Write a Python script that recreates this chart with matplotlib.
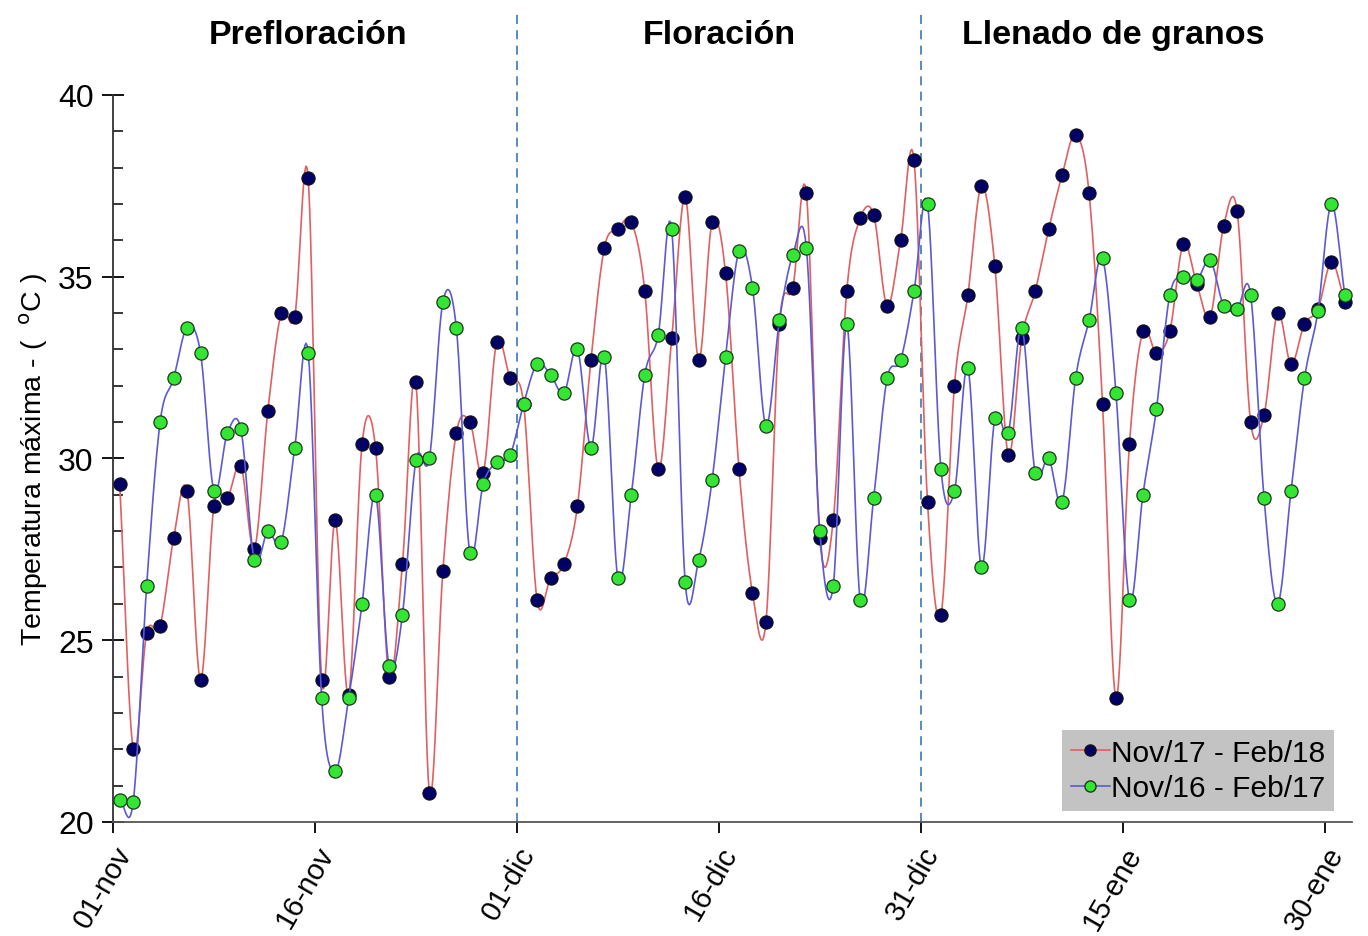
import numpy as np
import matplotlib
matplotlib.use('Agg')
from matplotlib import pyplot as plt
from matplotlib.ticker import MultipleLocator

plt.rcParams['font.family'] = ['Liberation Sans', 'DejaVu Sans']

# daily max temperature, 01-nov .. 31-ene (92 days)
temp_1718 = [29.3, 22.0, 25.2, 25.4, 27.8, 29.1, 23.9, 28.7, 28.9, 29.8,
             27.5, 31.3, 34.0, 33.9, 37.7, 23.9, 28.3, 23.5, 30.4, 30.3,
             24.0, 27.1, 32.1, 20.8, 26.9, 30.7, 31.0, 29.6, 33.2, 32.2,
             31.5, 26.1, 26.7, 27.1, 28.7, 32.7, 35.8, 36.3, 36.5, 34.6,
             29.7, 33.3, 37.2, 32.7, 36.5, 35.1, 29.7, 26.3, 25.5, 33.7,
             34.7, 37.3, 27.8, 28.3, 34.6, 36.6, 36.7, 34.2, 36.0, 38.2,
             28.8, 25.7, 32.0, 34.5, 37.5, 35.3, 30.1, 33.3, 34.6, 36.3,
             37.8, 38.9, 37.3, 31.5, 23.4, 30.4, 33.5, 32.9, 33.5, 35.9,
             34.8, 33.9, 36.4, 36.8, 31.0, 31.2, 34.0, 32.6, 33.7, 34.1,
             35.4, 34.3]
temp_1617 = [20.6, 20.55, 26.5, 31.0, 32.2, 33.6, 32.9, 29.1, 30.7, 30.8,
             27.2, 28.0, 27.7, 30.3, 32.9, 23.4, 21.4, 23.4, 26.0, 29.0,
             24.3, 25.7, 29.95, 30.0, 34.3, 33.6, 27.4, 29.3, 29.9, 30.1,
             31.5, 32.6, 32.3, 31.8, 33.0, 30.3, 32.8, 26.7, 29.0, 32.3,
             33.4, 36.3, 26.6, 27.2, 29.4, 32.8, 35.7, 34.7, 30.9, 33.8,
             35.6, 35.8, 28.0, 26.5, 33.7, 26.1, 28.9, 32.2, 32.7, 34.6,
             37.0, 29.7, 29.1, 32.5, 27.0, 31.1, 30.7, 33.6, 29.6, 30.0,
             28.8, 32.2, 33.8, 35.5, 31.8, 26.1, 29.0, 31.35, 34.5, 35.0,
             34.9, 35.45, 34.2, 34.1, 34.5, 28.9, 26.0, 29.1, 32.2, 34.05,
             37.0, 34.5]

tick_days = [0, 15, 30, 45, 60, 75, 90]
tick_labels = ['01-nov', '16-nov', '01-dic', '16-dic', '31-dic', '15-ene', '30-ene']
phase_edges = [30, 60]
phase_names = ['Prefloración', 'Floración', 'Llenado de granos']
phase_pos = [14.5, 45, 74.3]


def smooth(x, y, n=12):
    # catmull-rom, close to excel "smoothed line"
    x = np.asarray(x, float)
    y = np.asarray(y, float)
    px = np.concatenate([[2*x[0]-x[1]], x, [2*x[-1]-x[-2]]])
    py = np.concatenate([[2*y[0]-y[1]], y, [2*y[-1]-y[-2]]])
    t = np.linspace(0, 1, n, endpoint=False)[:, None]
    out = []
    for p in (px, py):
        p0, p1, p2, p3 = p[:-3], p[1:-2], p[2:-1], p[3:]
        c = 0.5*((2*p1) + (-p0+p2)*t + (2*p0-5*p1+4*p2-p3)*t**2 + (-p0+3*p1-3*p2+p3)*t**3)
        out.append(np.concatenate([c.T.ravel(), [p[-2]]]))
    return out[0], out[1]


days = np.arange(len(temp_1718)) + 0.5

fig = plt.figure(figsize=(13.68, 9.37), dpi=100)
ax = fig.add_axes([0.0826, 0.1217, 0.9054, 0.776])

sx, sy = smooth(days, temp_1718)
ax.plot(sx, sy, color='#e06060', lw=1.2, zorder=2)
ax.plot(days, temp_1718, 'o', color='#000066', mec='#111111', mew=0.8, ms=9.5, zorder=3)
sx, sy = smooth(days, temp_1617)
ax.plot(sx, sy, color='#5a5ad6', lw=1.2, zorder=4)
ax.plot(days, temp_1617, 'o', color='#33e633', mec='#1a3a1a', mew=0.9, ms=9.5, zorder=5)

# legend proxies
h1, = ax.plot([], [], '-o', color='#e06060', mfc='#000066', mec='#111111', ms=8, lw=1.2)
h2, = ax.plot([], [], '-o', color='#5a5ad6', mfc='#33e633', mec='#1a3a1a', ms=8, lw=1.2)
leg = ax.legend([h1, h2], ['Nov/17 - Feb/18', 'Nov/16 - Feb/17'], loc='lower right',
                bbox_to_anchor=(0.986, 0.015), fontsize=21.5, frameon=True, fancybox=False,
                handlelength=1.3, handletextpad=0.05, borderpad=0.3, labelspacing=0.25,
                borderaxespad=0)
leg.get_frame().set_facecolor('#c3c3c3')
leg.get_frame().set_edgecolor('none')
leg.get_frame().set_alpha(1)

for d in phase_edges:
    ax.plot([d, d], [20, 42.35], ls=(0, (5, 3.5)), color='#4a82b8', lw=1.3, clip_on=False, zorder=1)
for name, p in zip(phase_names, phase_pos):
    ax.text(p, 41.65, name, ha='center', va='center', fontsize=24.5, fontweight='bold')

ax.set_xlim(0, 92)
ax.set_ylim(20, 40)
ax.spines['top'].set_visible(False)
ax.spines['right'].set_visible(False)
ax.spines['left'].set_color('#333333')
ax.spines['bottom'].set_color('#555555')
ax.spines['left'].set_linewidth(1.3)
ax.spines['bottom'].set_linewidth(1.3)

ax.yaxis.set_major_locator(MultipleLocator(5))
ax.yaxis.set_minor_locator(MultipleLocator(1))
ax.tick_params(axis='y', which='major', direction='inout', length=16, width=1.3, labelsize=23, pad=6)
ax.tick_params(axis='y', which='minor', direction='in', length=7, width=1.1)
ax.set_xticks(tick_days)
ax.set_xticklabels(tick_labels, rotation=60, ha='right', va='top', rotation_mode='anchor')
ax.tick_params(axis='x', direction='out', length=8, width=1.3, labelsize=21, pad=6)

ax.set_ylabel('Temperatura máxima - (  $^{\\mathrm{o}}$C )', fontsize=20.5, labelpad=6)

fig.savefig('out.png', dpi=100)
